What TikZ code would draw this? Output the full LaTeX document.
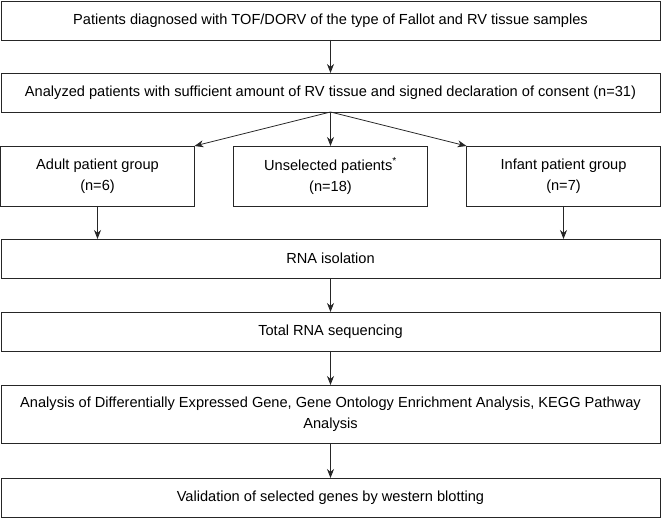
\documentclass[tikz,border=0pt]{standalone}
\usepackage{fontspec}
\setmainfont{Liberation Sans}
\usetikzlibrary{positioning,arrows.meta}
\tikzset{
	->,
	>={Stealth[length=9pt,width=7pt]},
	node distance=34pt,
	every node/.style={draw=black!85, line width=0.8pt, align=center, inner sep=0pt, outer sep=0pt,
		font=\fontsize{14.6}{21}\selectfont},
}

\begin{document}
\begin{tikzpicture}[
            line width=0.8pt,
            draw=black!85,
            widebox/.style={minimum width=659pt, minimum height=39pt},
            groupbox/.style={minimum width=194pt, minimum height=60pt},
            textbox/.style={minimum width=659pt, minimum height=58pt}
        ]
        \useasboundingbox (0,0) rectangle (661pt,-518pt);
        \node[widebox] (patients) at (330.5pt,-20.5pt) {Patients diagnosed with TOF/DORV of the type of Fallot and RV tissue samples};
        \node[widebox, below=33pt of patients] (analyzed) {Analyzed patients with sufficient amount of RV tissue and signed declaration of consent (n=31)};
        \node[groupbox, below=34pt of analyzed] (unselected) {Unselected patients\textsuperscript{*}\\(n=18)};
        \node[groupbox, left=39pt of unselected] (adult) {Adult patient group\\(n=6)};
        \node[groupbox, right=39pt of unselected] (infant) {Infant patient group\\(n=7)};
        \node[widebox, below=33pt of unselected] (isolation) {RNA isolation};
        \node[widebox, below=of isolation] (sequencing) {Total RNA sequencing};
        \node[textbox, below=of sequencing] (enrichment) {Analysis of Differentially Expressed Gene, Gene Ontology Enrichment Analysis, KEGG Pathway\\Analysis};
        \node[widebox, below=35pt of enrichment] (validation) {Validation of selected genes by western blotting};

        \draw (patients) -- (analyzed);
        \draw (analyzed.south) -- (adult.north east);
        \draw (analyzed.south) -- (unselected.north);
        \draw (analyzed.south) -- (infant.north west);
        \draw (adult.south) -- (adult.south |- isolation.north);
        \draw (infant.south) -- (infant.south |- isolation.north);
        \draw (isolation) -- (sequencing);
        \draw (sequencing) -- (enrichment);
        \draw (enrichment) -- (validation);
    \end{tikzpicture}
\end{document}
